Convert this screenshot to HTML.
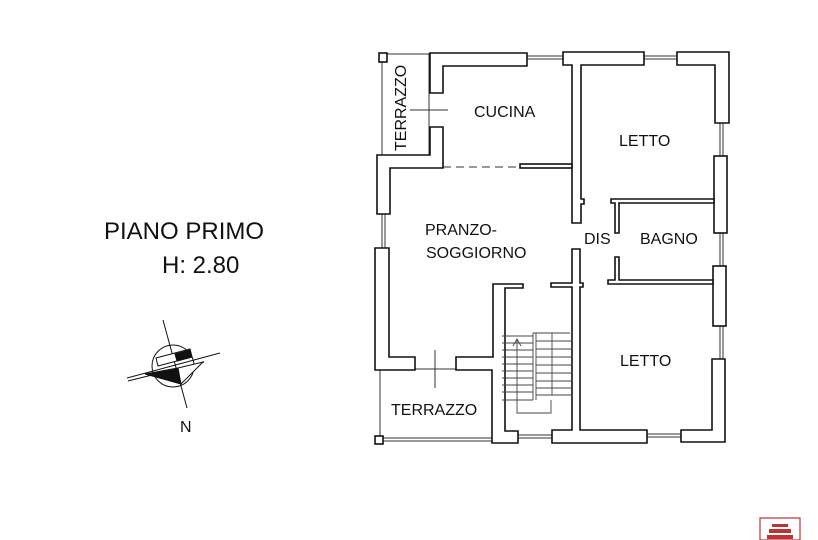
<!DOCTYPE html>
<html><head><style>
html,body{margin:0;padding:0;background:#fff;}
svg{display:block;}
text{font-family:"Liberation Sans",Arial,sans-serif;fill:#111;}
</style></head><body>
<svg width="818" height="540" viewBox="0 0 818 540" xmlns="http://www.w3.org/2000/svg">
<rect width="818" height="540" fill="#fff"/>
<g fill="#fff" stroke="#111" stroke-width="1.6" stroke-linejoin="miter">
<g fill="none" stroke-width="1" stroke="#333">
<line x1="387" y1="54" x2="430" y2="54"/>
<line x1="382" y1="62" x2="382" y2="155"/>
<line x1="429" y1="53" x2="429" y2="155"/>
<line x1="410" y1="110" x2="448" y2="110"/>
<line x1="527" y1="56" x2="563" y2="56"/><line x1="527" y1="59" x2="563" y2="59"/>
<line x1="644" y1="56" x2="677" y2="56"/><line x1="644" y1="59" x2="677" y2="59"/>
<line x1="720" y1="123" x2="720" y2="157"/><line x1="723" y1="123" x2="723" y2="157"/>
<line x1="720" y1="233" x2="720" y2="266"/><line x1="723" y1="233" x2="723" y2="266"/>
<line x1="720" y1="326" x2="720" y2="359"/><line x1="723" y1="326" x2="723" y2="359"/>
<line x1="382" y1="214" x2="382" y2="248"/><line x1="385" y1="214" x2="385" y2="248"/>
<line x1="380" y1="370" x2="380" y2="436"/>
<line x1="415" y1="369" x2="456" y2="369"/>
<line x1="435" y1="350" x2="435" y2="388"/>
<line x1="383" y1="438" x2="492" y2="438"/><line x1="383" y1="441" x2="492" y2="441"/>
<line x1="518" y1="435" x2="552" y2="435"/><line x1="518" y1="438" x2="552" y2="438"/>
<line x1="647" y1="434" x2="681" y2="434"/><line x1="647" y1="437" x2="681" y2="437"/>
<line x1="443" y1="167" x2="520" y2="167" stroke-dasharray="8,5"/>
</g>
<rect x="379" y="53" width="8" height="9"/>
<rect x="375" y="436" width="8" height="8"/>
<polygon points="430,53 527,53 527,66 443,66 443,93 430,93"/>
<polygon points="563,52 644,52 644,65 581,65 581,199 584,199 584,204 581,204 581,223 572,223 572,65 563,65"/>
<polygon points="677,52 729,52 729,123 715,123 715,65 677,65"/>
<rect x="714" y="156" width="13" height="77"/>
<polygon points="611,199 714,199 714,203 619,203 619,233 615,233 615,203 611,203"/>
<rect x="520" y="164" width="52" height="4"/>
<polygon points="430,127 443,127 443,168 390,168 390,214 377,214 377,155 430,155"/>
<polygon points="375,248 389,248 389,357 415,357 415,370 375,370"/>
<polygon points="456,357 493,357 493,284 523,284 523,288 505,288 505,431 518,431 518,443 492,443 492,370 456,370"/>
<polygon points="572,249 580,249 580,283 583,283 583,287 580,287 580,430 647,430 647,443 552,443 552,430 572,430 572,287 551,287 551,283 572,283"/>
<polygon points="712,359 725,359 725,442 681,442 681,430 712,430"/>
<rect x="713" y="266" width="13" height="60"/>
<polygon points="615,257 619,257 619,280 713,280 713,284 608,284 608,280 615,280"/>
</g>
<g stroke="#444" stroke-width="0.9" fill="none">
<line x1="502" y1="336" x2="533" y2="336"/>
<line x1="533" y1="333" x2="570" y2="333"/>
<line x1="533" y1="333" x2="533" y2="400"/><line x1="536" y1="333" x2="536" y2="400"/>
<line x1="552" y1="333" x2="552" y2="395"/>
<line x1="502" y1="343" x2="533" y2="343"/><line x1="502" y1="350" x2="533" y2="350"/>
<line x1="502" y1="357" x2="533" y2="357"/><line x1="502" y1="364" x2="533" y2="364"/>
<line x1="502" y1="371" x2="533" y2="371"/><line x1="502" y1="378" x2="533" y2="378"/>
<line x1="502" y1="385" x2="533" y2="385"/><line x1="502" y1="392" x2="533" y2="392"/>
<line x1="502" y1="400" x2="533" y2="400"/>
<line x1="536" y1="341" x2="572" y2="341"/><line x1="536" y1="349" x2="572" y2="349"/>
<line x1="536" y1="357" x2="572" y2="357"/><line x1="536" y1="365" x2="572" y2="365"/>
<line x1="536" y1="373" x2="572" y2="373"/><line x1="536" y1="381" x2="572" y2="381"/>
<line x1="536" y1="388" x2="572" y2="388"/><line x1="536" y1="395" x2="572" y2="395"/>
<polyline points="551,400 551,413 517,413 517,339"/>
<polyline points="513,346 517,339 521,346"/>
</g>
<g font-size="16">
<text x="474" y="117">CUCINA</text>
<text x="619" y="146">LETTO</text>
<text x="640" y="244">BAGNO</text>
<text x="584" y="244">DIS</text>
<text x="425" y="235">PRANZO-</text>
<text x="426" y="258">SOGGIORNO</text>
<text x="620" y="366">LETTO</text>
<text x="391" y="415">TERRAZZO</text>
<text transform="translate(406,151) rotate(-90)">TERRAZZO</text>
</g>
<text x="104" y="239" font-size="24">PIANO PRIMO</text>
<text x="162" y="273" font-size="24">H: 2.80</text>
<!-- compass -->
<g stroke="#111" stroke-width="1" fill="none">
<circle cx="173" cy="366" r="21" fill="#fff"/>
<line x1="163" y1="320" x2="187" y2="408"/>
<polygon points="156,358 190,349 192,357 158,366" fill="#fff"/>
<polygon points="175,354 190,350 192,357 177,361" fill="#111"/>
<line x1="127" y1="378" x2="220" y2="353"/>
<line x1="128" y1="381" x2="204" y2="362"/>
<polygon points="145,374 178,368 181,384" fill="#111"/>
<polygon points="178,368 203,362 181,384" fill="#fff"/>
</g>
<text x="180" y="432" font-size="16">N</text>
<rect x="760" y="518" width="40" height="22" fill="#fff" stroke="#b33" stroke-width="1.2"/>
<g fill="#b33"><rect x="772" y="524" width="16" height="3"/><rect x="769" y="529" width="22" height="4"/><rect x="767" y="535" width="26" height="4"/></g>
</svg>
</body></html>
